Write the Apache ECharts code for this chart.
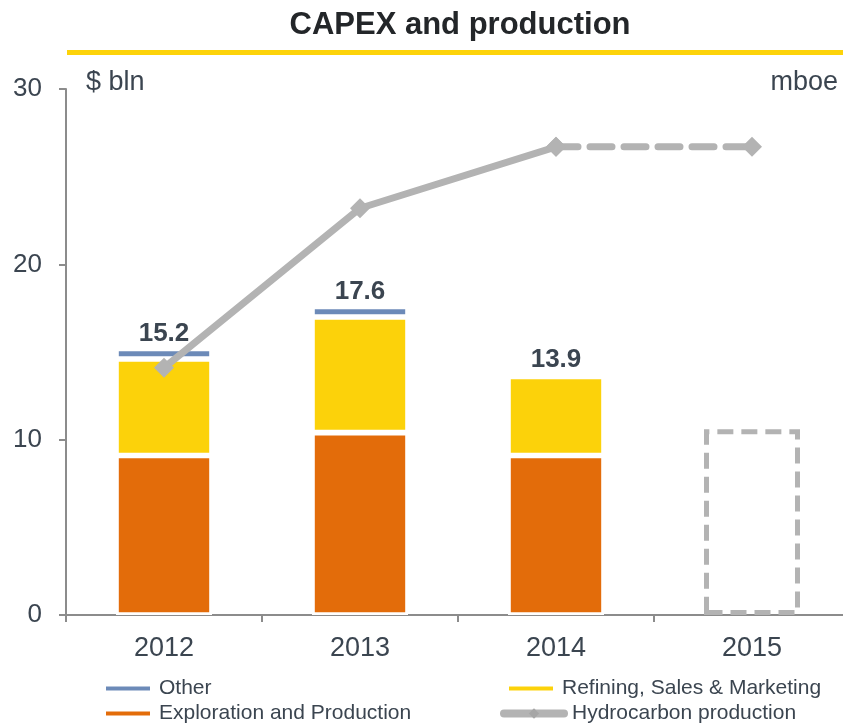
<!DOCTYPE html>
<html>
<head>
<meta charset="utf-8">
<script src="https://cdn.jsdelivr.net/npm/echarts@6/dist/echarts.min.js"></script>
<style>
  html, body { margin: 0; padding: 0; background: #fff; overflow: hidden; }
  #chart { width: 843px; height: 725px; }
</style>
</head>
<body>
<div id="chart"></div>
<script>
// data
const years = ['2012', '2013', '2014', '2015']
const explorationProd = [9.1, 10.4, 9.1, null]
const refiningSales = [5.5, 6.6, 4.5, null]
const other = [0.6, 0.6, 0, null]
const capexTotals = [15.2, 17.6, 13.9, null]
const capexPlan2015 = [null, null, null, 10.6]
const productionActual = [14.1, 23.2, 26.7, null]
const productionPlan = [null, null, 26.7, 26.7]
const yTicks = [0, 10, 20, 30]

const TXT = '#3b4550'
const FONT = "'Liberation Sans', Arial, sans-serif"
const GRAY = '#b3b3b3'

const chart = echarts.init(document.getElementById('chart'), null, { renderer: 'canvas' })

const barBase = {
  type: 'bar',
  stack: 'capex',
  barWidth: 96,
  itemStyle: { borderColor: '#fff', borderWidth: 2.8 }
}

function legendAt(left, top, item, w, h) {
  return {
    left, top, padding: 0, itemWidth: w, itemHeight: h,
    textStyle: { color: TXT, fontSize: 21, fontFamily: FONT, padding: [0, 0, 0, 3] },
    data: [item]
  }
}

chart.setOption({
  animation: false,
  textStyle: { fontFamily: FONT },
  grid: { left: 66, right: -7, top: 89, bottom: 110, outerBoundsMode: 'none', containLabel: false },
  graphic: [
    {
      type: 'text', x: 460, y: 25,
      style: { text: 'CAPEX and production', fontSize: 31, fontWeight: 'bold', fill: '#232629', fontFamily: FONT, align: 'center', verticalAlign: 'middle' }
    },
    { type: 'rect', shape: { x: 67, y: 50, width: 780, height: 5 }, style: { fill: '#fdd30a' } },
    { type: 'text', x: 86, y: 82.5, style: { text: '$ bln', fontSize: 27, fill: TXT, fontFamily: FONT, verticalAlign: 'middle' } },
    { type: 'text', x: 838, y: 82.5, style: { text: 'mboe', fontSize: 27, fill: TXT, align: 'right', verticalAlign: 'middle', fontFamily: FONT } }
  ],
  legend: [
    legendAt(104, 678, { name: 'Other', icon: 'rect' }, 46, 6),
    legendAt(104, 703, { name: 'Exploration and Production', icon: 'rect' }, 46, 6),
    legendAt(507, 678, { name: 'Refining, Sales & Marketing', icon: 'rect' }, 46, 6),
    legendAt(500, 703, {
      name: 'Hydrocarbon production',
      lineStyle: { width: 8, cap: 'round', color: GRAY },
      itemStyle: { color: '#a6a6a6' }
    }, 60, 13)
  ],
  xAxis: {
    type: 'category',
    data: years,
    axisLine: { lineStyle: { color: '#8c8c8c', width: 2 } },
    axisTick: { show: true, length: 7, lineStyle: { color: '#8c8c8c', width: 2 } },
    axisLabel: { color: TXT, fontSize: 27, margin: 20, fontFamily: FONT }
  },
  yAxis: [
    {
      type: 'value', min: yTicks[0], max: yTicks[yTicks.length - 1], interval: 10,
      axisLine: { show: true, lineStyle: { color: '#8c8c8c', width: 2 } },
      axisTick: { show: true, length: 7, lineStyle: { color: '#8c8c8c', width: 2 } },
      axisLabel: { color: TXT, fontSize: 26, margin: 24, fontFamily: FONT },
      splitLine: { show: false }
    },
    {
      // production axis (mboe), unlabeled in the original
      type: 'value', min: 0, max: 30, interval: 10, position: 'right',
      axisLine: { show: false }, axisTick: { show: false },
      axisLabel: { show: false }, splitLine: { show: false }
    }
  ],
  series: [
    { ...barBase, name: 'Exploration and Production', data: explorationProd, itemStyle: { ...barBase.itemStyle, color: '#e36c0a' } },
    { ...barBase, name: 'Refining, Sales & Marketing', data: refiningSales, itemStyle: { ...barBase.itemStyle, color: '#fcd20a' } },
    {
      ...barBase, name: 'Other', data: other,
      itemStyle: { ...barBase.itemStyle, color: '#6c8ab8' },
      label: {
        show: true, position: 'top', distance: 2,
        color: TXT, fontSize: 26, fontWeight: 'bold', fontFamily: FONT,
        formatter: (p) => capexTotals[p.dataIndex] == null ? '' : capexTotals[p.dataIndex].toFixed(1)
      }
    },
    {
      ...barBase, name: 'CAPEX 2015', data: capexPlan2015,
      itemStyle: { color: 'rgba(0,0,0,0)', borderColor: GRAY, borderWidth: 5, borderType: [16, 8] }
    },
    {
      name: 'Hydrocarbon production', type: 'line', yAxisIndex: 1,
      data: productionActual,
      symbol: 'diamond', symbolSize: 20,
      itemStyle: { color: GRAY },
      lineStyle: { color: GRAY, width: 7 },
      z: 5
    },
    {
      name: 'Hydrocarbon production', type: 'line', yAxisIndex: 1,
      data: productionPlan,
      symbol: 'diamond', symbolSize: 20,
      itemStyle: { color: GRAY },
      lineStyle: { color: GRAY, width: 7, type: [22, 12], cap: 'round' },
      z: 5
    }
  ]
})
</script>
</body>
</html>
